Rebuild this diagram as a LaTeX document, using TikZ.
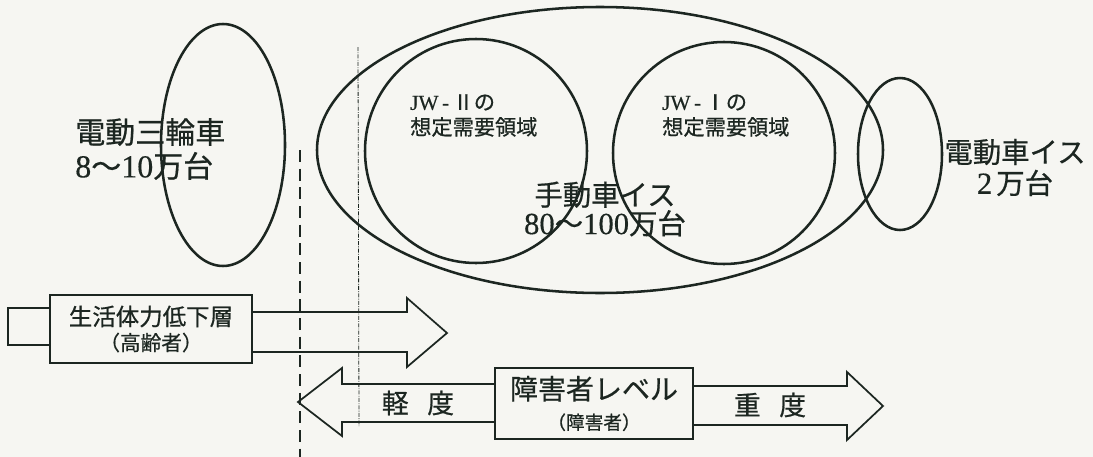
\documentclass[tikz,border=0pt]{standalone}
\usepackage{fontspec}
\setmainfont{Liberation Serif}
\newfontfamily\jp[FakeBold=0.6]{Noto Sans CJK JP}
\newfontfamily\dig[FakeBold=0.4]{Liberation Serif}
\usetikzlibrary{shapes.geometric,calc}
\definecolor{ink}{RGB}{28,38,33}
\definecolor{paper}{RGB}{246,246,242}
\begin{document}
\begin{tikzpicture}[x=0.75pt,y=-0.75pt,
  ell/.style={ellipse, draw=ink, line width=1.9pt, inner sep=0pt},
  blk/.style={draw=ink, line width=1.3pt, line join=miter},
  boxnode/.style={draw=ink, line width=1.3pt, inner sep=0pt, align=center, text=ink},
  lbl/.style={text=ink, inner sep=0pt},
]
\fill[paper] (0,0) rectangle (1093,457);
\useasboundingbox (0,0) rectangle (1093,457);

% dashed guide lines
\draw[ink, line width=1.6pt, dash pattern=on 9pt off 5pt] (300,150) -- (300,457);
\draw[ink, line width=0.6pt, dash pattern=on 3pt off 1pt on 0.6pt off 1pt] (358,47) -- (359,426);

% ellipses
\node[ell, minimum width=124*0.75pt, minimum height=242*0.75pt] (trike) at (223,145) {};
\node[ell, minimum width=566*0.75pt, minimum height=286*0.75pt] (manual) at (600,150) {};
\node[ell, minimum width=222*0.75pt, minimum height=224*0.75pt] (jw2) at (476,151) {};
\node[ell, minimum width=222*0.75pt, minimum height=222*0.75pt] (jw1) at (724,153) {};
\node[ell, minimum width=84*0.75pt, minimum height=152*0.75pt] (ev) at (900,154) {};

% ellipse labels
\node[lbl, anchor=west, align=left, font={\jp\fontsize{22.5pt}{25.5pt}\selectfont}] (trikeT) at (75,149)
  {電動三輪車\\{\dig\fontsize{24pt}{25.5pt}\selectfont 8}〜{\dig\fontsize{24pt}{25.5pt}\selectfont 10}万台};
\node[lbl, anchor=west, align=left, font={\jp\fontsize{15.9pt}{18.8pt}\selectfont}] (jw2T) at (410,115.5)
  {{\dig JW\,-\,}Ⅱの\\想定需要領域};
\node[lbl, anchor=west, align=left, font={\jp\fontsize{15.9pt}{18.8pt}\selectfont}] (jw1T) at (662,115.5)
  {{\dig JW\,-\,}Ⅰの\\想定需要領域};
\node[lbl, align=center, font={\jp\fontsize{21.3pt}{21.5pt}\selectfont}] (manualT) at (605,209)
  {手動車イス\\{\dig\fontsize{23pt}{21.5pt}\selectfont 80}〜{\dig\fontsize{23pt}{21.5pt}\selectfont 100}万台};
\node[lbl, align=center, font={\jp\fontsize{21.3pt}{23.3pt}\selectfont}] (evT) at (1015,167.5)
  {電動車イス\\{\dig\fontsize{23pt}{23.3pt}\selectfont 2}\hspace{3pt}万台};

% elderly arrow
\node[boxnode, minimum width=202*0.75pt, minimum height=68*0.75pt,
      font={\jp\fontsize{17.6pt}{18.8pt}\selectfont}] (old) at (151,329)
  {生活体力低下層\\{\fontsize{15.5pt}{18.8pt}\selectfont （高齢者）}};
\draw[blk] (old.west |- 0,308) -- (8,308) -- (8,345) -- (old.west |- 0,345);
\draw[blk] (old.east |- 0,312) -- (407,312) -- (407,298) -- (447,333) -- (407,367) -- (407,352) -- (old.east |- 0,352);

% disability level arrow
\node[boxnode, minimum width=198*0.75pt, minimum height=71*0.75pt,
      font={\jp\fontsize{21pt}{22.5pt}\selectfont}] (lvl) at (594,403.5)
  {障害者レベル\\{\fontsize{14pt}{22.5pt}\selectfont （障害者）}};
\draw[blk] (lvl.west |- 0,384) -- (342,384) -- (342,368) -- (298,402) -- (342,436) -- (342,422) -- (lvl.west |- 0,422);
\draw[blk] (lvl.east |- 0,386) -- (847,386) -- (847,372) -- (883,406) -- (847,440) -- (847,425) -- (lvl.east |- 0,425);
\node[lbl, font={\jp\fontsize{20pt}{22pt}\selectfont}] (mild) at (418,403) {軽\hspace{14pt}度};
\node[lbl, font={\jp\fontsize{20pt}{22pt}\selectfont}] (severe) at (770,405) {重\hspace{14pt}度};
\end{tikzpicture}
\end{document}
